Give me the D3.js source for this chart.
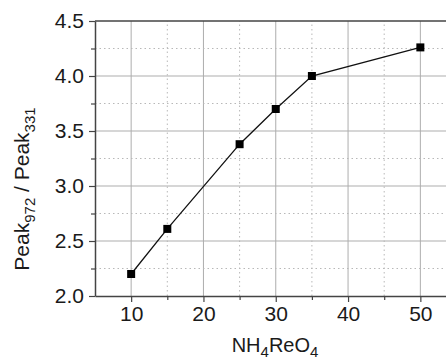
<!DOCTYPE html>
<html>
<head>
<meta charset="UTF-8">
<script src="https://cdn.jsdelivr.net/npm/d3@7"></script>
<style>
  body { margin: 0; background: #fff; }
  svg { display: block; font-family: "Liberation Sans", Arial, sans-serif; }
</style>
</head>
<body>
<svg id="chart" width="446" height="361"></svg>
<script>
// data
const conc = [10, 15, 25, 30, 35, 50];
const ratio = [2.2, 2.61, 3.38, 3.70, 4.0, 4.26];
const xTicks = [10, 20, 30, 40, 50];
const xMinor = [15, 25, 35, 45];
const yTicks = [2.0, 2.5, 3.0, 3.5, 4.0, 4.5];
const yMinor = [2.25, 2.75, 3.25, 3.75, 4.25];

const margin = { left: 95, top: 21, bottom: 65 };
const height = 361;
const svg = d3.select("#chart");

const x = d3.scaleLinear().domain([5, 55]).range([margin.left, margin.left + 50 * 7.23]);
const y = d3.scaleLinear().domain([2.0, 4.5]).range([height - margin.bottom, margin.top]);

const x0 = x.range()[0], x1 = x.range()[1];
const y0 = y.range()[0], y1 = y.range()[1];

// grid
const grid = svg.append("g");
grid.selectAll(".vmaj").data(xTicks).enter().append("line")
  .attr("x1", d => x(d)).attr("x2", d => x(d)).attr("y1", y0).attr("y2", y1)
  .attr("stroke", "#adadad").attr("stroke-width", 1);
grid.selectAll(".hmaj").data(yTicks.slice(1, -1)).enter().append("line")
  .attr("x1", x0).attr("x2", x1).attr("y1", d => y(d)).attr("y2", d => y(d))
  .attr("stroke", "#adadad").attr("stroke-width", 1);
grid.selectAll(".vmin").data(xMinor).enter().append("line")
  .attr("x1", d => x(d)).attr("x2", d => x(d)).attr("y1", y0).attr("y2", y1)
  .attr("stroke", "#b8b8b8").attr("stroke-width", 1).attr("stroke-dasharray", "1.5,3");
grid.selectAll(".hmin").data(yMinor).enter().append("line")
  .attr("x1", x0).attr("x2", x1).attr("y1", d => y(d)).attr("y2", d => y(d))
  .attr("stroke", "#b8b8b8").attr("stroke-width", 1).attr("stroke-dasharray", "1.5,3");

// frame: top border
svg.append("line").attr("x1", x0).attr("x2", x1).attr("y1", y1).attr("y2", y1)
  .attr("stroke", "#444").attr("stroke-width", 1.5);

// axes
svg.append("g").attr("transform", `translate(0,${y0})`)
  .call(d3.axisBottom(x).tickValues(xTicks).tickSize(6).tickPadding(4).tickSizeOuter(0));
svg.append("g").attr("transform", `translate(0,${y0})`)
  .call(d3.axisBottom(x).tickValues(xMinor).tickSize(4).tickFormat("").tickSizeOuter(0))
  .select(".domain").remove();
svg.append("g").attr("transform", `translate(${x0},0)`)
  .call(d3.axisLeft(y).tickValues(yTicks).tickSize(6).tickPadding(5).tickFormat(d3.format(".1f")).tickSizeOuter(0));
svg.append("g").attr("transform", `translate(${x0},0)`)
  .call(d3.axisLeft(y).tickValues(yMinor).tickSize(4).tickFormat("").tickSizeOuter(0))
  .select(".domain").remove();

svg.selectAll(".domain").attr("stroke", "#444").attr("stroke-width", 1.5);
svg.selectAll(".tick line").attr("stroke", "#444").attr("stroke-width", 1.2);
svg.selectAll(".tick text").attr("font-size", 21).attr("fill", "#1a1a1a")
  .attr("font-family", "Liberation Sans, Arial, sans-serif");

// series
const line = d3.line().x((d, i) => x(conc[i])).y(d => y(d));
svg.append("path").datum(ratio).attr("d", line)
  .attr("fill", "none").attr("stroke", "#111").attr("stroke-width", 1.3);
svg.selectAll(".pt").data(ratio).enter().append("rect")
  .attr("x", (d, i) => x(conc[i]) - 4).attr("y", d => y(d) - 4)
  .attr("width", 8).attr("height", 8).attr("fill", "#000");

// axis titles
const yl = svg.append("text")
  .attr("transform", `translate(29,189) rotate(-90)`)
  .attr("text-anchor", "middle").attr("font-size", 21).attr("fill", "#1a1a1a");
yl.append("tspan").text("Peak");
yl.append("tspan").attr("font-size", 15).attr("dy", 6).text("972");
yl.append("tspan").attr("dy", -6).text(" / Peak");
yl.append("tspan").attr("font-size", 15).attr("dy", 6).text("331");

const xl = svg.append("text")
  .attr("x", 275).attr("y", 352)
  .attr("text-anchor", "middle").attr("font-size", 20).attr("fill", "#1a1a1a");
xl.append("tspan").text("NH");
xl.append("tspan").attr("font-size", 15).attr("dy", 5).text("4");
xl.append("tspan").attr("dy", -5).text("ReO");
xl.append("tspan").attr("font-size", 15).attr("dy", 5).text("4");
</script>
</body>
</html>
